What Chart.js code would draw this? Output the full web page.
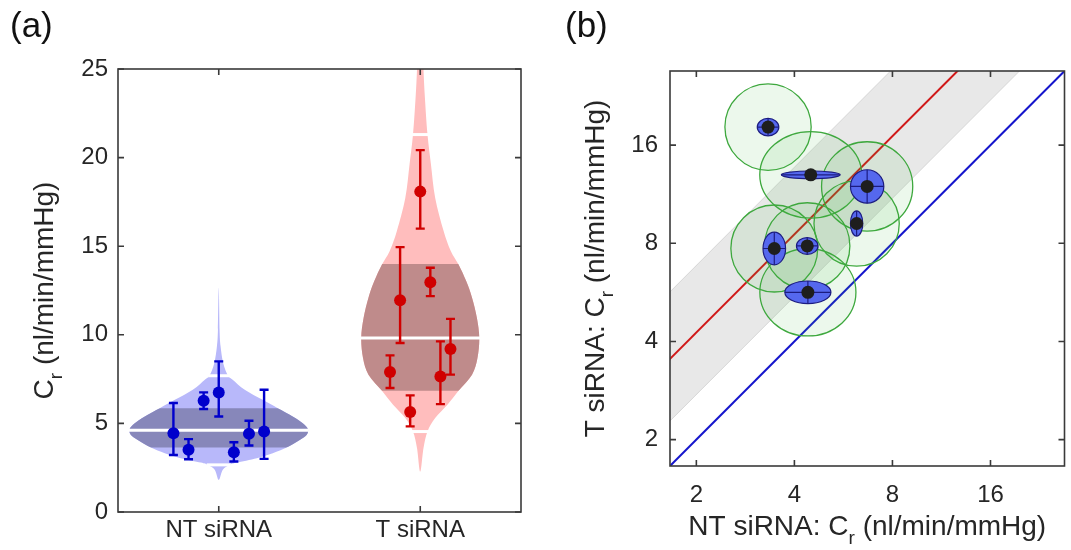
<!DOCTYPE html>
<html>
<head>
<meta charset="utf-8">
<script src="https://cdn.jsdelivr.net/npm/chart.js@4.4.1/dist/chart.umd.min.js"></script>
<style>
  html, body { margin: 0; padding: 0; background: #fff; }
  #wrap { position: relative; width: 1071px; height: 550px; }
  #boxA { position: absolute; left: 0; top: 0; width: 545px; height: 550px; }
  #boxB { position: absolute; left: 545px; top: 0; width: 526px; height: 550px; }
</style>
</head>
<body>
<div id="wrap">
  <div id="boxA"><canvas id="violinChart" width="545" height="550"></canvas></div>
  <div id="boxB"><canvas id="ratioChart" width="526" height="550"></canvas></div>
</div>
<script>
// ---- panel (a) data ----
const groups = ['NT siRNA', 'T siRNA'];
const yTicksA = [0, 5, 10, 15, 20, 25];

const ntValues = [4.45, 3.51, 6.28, 6.75, 3.37, 4.41, 4.54];
const ntLow = [3.22, 2.98, 5.81, 5.39, 2.85, 3.75, 3.00];
const ntHigh = [6.15, 4.11, 6.75, 8.50, 3.94, 5.15, 6.90];

const tValues = [7.90, 11.95, 5.64, 18.08, 12.97, 7.65, 9.20];
const tLow = [7.00, 9.54, 4.83, 15.99, 12.18, 6.09, 7.75];
const tHigh = [8.84, 14.95, 6.58, 20.42, 13.78, 9.63, 10.90];

// violin outlines: level (nl/min/mmHg) and half width (x units)
const ntLevels = [1.81, 2.38, 2.66, 2.79, 3.04, 3.32, 3.64, 4.07, 4.36, 4.69, 5.01, 5.39, 5.86, 6.33, 6.90, 7.47, 7.69, 8.41, 9.35, 10.29, 12.65];
const ntWidths = [0, 0.020, 0.055, 0.089, 0.189, 0.268, 0.337, 0.402, 0.437, 0.442, 0.417, 0.367, 0.293, 0.218, 0.129, 0.069, 0.046, 0.022, 0.009, 0.004, 0];
const ntStats = { low: 2.66, q1: 3.64, median: 4.62, q3: 5.86, high: 7.69 };

const tLevels = [2.28, 3.60, 4.54, 5.30, 6.05, 6.84, 7.75, 8.69, 9.82, 10.96, 12.09, 13.03, 13.97, 14.72, 15.86, 17.74, 19.63, 21.30, 23.40, 25.00, 26.50];
const tWidths = [0, 0.016, 0.036, 0.074, 0.135, 0.190, 0.257, 0.284, 0.293, 0.281, 0.257, 0.228, 0.190, 0.152, 0.116, 0.074, 0.053, 0.036, 0.023, 0.016, 0.012];
const tStats = { low: 4.54, q1: 6.84, median: 9.82, q3: 14.0, high: 21.30 };

// ---- panel (b) data ----
const logTicks = [2, 4, 8, 16];
const axisMin = 1.66;
const axisMax = 27.0;
const ntPaired = [3.32, 4.49, 6.69, 6.21, 3.47, 4.38, 4.40];
const tPaired = [18.17, 12.97, 11.95, 9.20, 7.71, 7.85, 5.66];
// blue ellipses, half axes in log2 units
const ellX = [0.110, 0.300, 0.170, 0.063, 0.115, 0.110, 0.235];
const ellY = [0.089, 0.039, 0.170, 0.128, 0.166, 0.085, 0.115];
// green rings, half axes in log2 units
const ringX = [0.440, 0.520, 0.465, 0.435, 0.443, 0.435, 0.490];
const ringY = [0.440, 0.440, 0.455, 0.435, 0.443, 0.440, 0.445];
const fitRatio = 2.13;
const bandLow = 1.375;
const bandHigh = 3.42;

const fontFamily = "'Liberation Sans', Arial, sans-serif";
const tickFont = { family: fontFamily, size: 24 };
const textColor = '#262626';
const frameColor = '#3a3a3a';
const ntColor = '#0000cc';
const tColor = '#d00000';

function widthAt(levels, widths, v) {
    for (let i = 1; i < levels.length; i++) {
        if (v <= levels[i]) {
            const f = (v - levels[i - 1]) / (levels[i] - levels[i - 1]);
            return widths[i - 1] + f * (widths[i] - widths[i - 1]);
        }
    }
    return widths[widths.length - 1];
}

function smoothLoop(ctx, p) {
    const n = p.length;
    ctx.beginPath();
    ctx.moveTo(p[0][0], p[0][1]);
    for (let i = 0; i < n; i++) {
        const p0 = p[(i - 1 + n) % n], p1 = p[i], p2 = p[(i + 1) % n], p3 = p[(i + 2) % n];
        ctx.bezierCurveTo(
            p1[0] + (p2[0] - p0[0]) / 6, p1[1] + (p2[1] - p0[1]) / 6,
            p2[0] - (p3[0] - p1[0]) / 6, p2[1] - (p3[1] - p1[1]) / 6,
            p2[0], p2[1]);
    }
    ctx.closePath();
}

function subTitle(ctx, x, y, rotate, main, sub, rest) {
    const big = '28px ' + fontFamily;
    const small = '19px ' + fontFamily;
    ctx.save();
    ctx.translate(x, y);
    if (rotate) ctx.rotate(-Math.PI / 2);
    ctx.font = big;
    const w1 = ctx.measureText(main).width;
    const w3 = ctx.measureText(rest).width;
    ctx.font = small;
    const w2 = ctx.measureText(sub).width;
    let cx = -(w1 + w2 + w3) / 2;
    ctx.fillStyle = textColor;
    ctx.textBaseline = 'middle';
    ctx.textAlign = 'left';
    ctx.font = big;
    ctx.fillText(main, cx, 0);
    cx += w1;
    ctx.font = small;
    ctx.fillText(sub, cx, 12);
    cx += w2;
    ctx.font = big;
    ctx.fillText(rest, cx, 0);
    ctx.restore();
}

function panelLabel(ctx, text, x) {
    ctx.save();
    ctx.font = '35px ' + fontFamily;
    ctx.fillStyle = '#111';
    ctx.textBaseline = 'alphabetic';
    ctx.fillText(text, x, 37);
    ctx.restore();
}

function drawFrame(ctx, area, xTicksPx, yTicksPx) {
    ctx.save();
    ctx.strokeStyle = frameColor;
    ctx.lineWidth = 1.6;
    ctx.strokeRect(area.left, area.top, area.right - area.left, area.bottom - area.top);
    ctx.beginPath();
    xTicksPx.forEach(px => {
        ctx.moveTo(px, area.bottom); ctx.lineTo(px, area.bottom - 6);
        ctx.moveTo(px, area.top); ctx.lineTo(px, area.top + 6);
    });
    yTicksPx.forEach(py => {
        ctx.moveTo(area.left, py); ctx.lineTo(area.left + 6, py);
        ctx.moveTo(area.right, py); ctx.lineTo(area.right - 6, py);
    });
    ctx.stroke();
    ctx.restore();
}

const violins = [
    { center: 1, levels: ntLevels, widths: ntWidths, stats: ntStats, light: '#b8b8fa', dark: '#8787ba' },
    { center: 2, levels: tLevels, widths: tWidths, stats: tStats, light: '#ffbdbd', dark: '#bf8b8b' },
];
const errorSets = [
    { center: 1, step: 0.075, low: ntLow, high: ntHigh, color: ntColor },
    { center: 2, step: 0.05, low: tLow, high: tHigh, color: tColor },
];

const violinPlugin = {
    id: 'violins',
    beforeDatasetsDraw(chart) {
        const { ctx, chartArea: a, scales: { x, y } } = chart;
        ctx.save();
        ctx.beginPath();
        ctx.rect(a.left, a.top, a.right - a.left, a.bottom - a.top);
        ctx.clip();
        violins.forEach(v => {
            const pts = [];
            v.levels.forEach((lv, i) => pts.push([x.getPixelForValue(v.center + v.widths[i]), y.getPixelForValue(lv)]));
            for (let i = v.levels.length - 1; i >= 0; i--) {
                if (v.widths[i] > 0) pts.push([x.getPixelForValue(v.center - v.widths[i]), y.getPixelForValue(v.levels[i])]);
            }
            smoothLoop(ctx, pts);
            ctx.fillStyle = v.light;
            ctx.fill();
            // interquartile band
            ctx.save();
            const top = y.getPixelForValue(v.stats.q3);
            const bot = y.getPixelForValue(v.stats.q1);
            ctx.beginPath();
            ctx.rect(a.left, top, a.right - a.left, bot - top);
            ctx.clip();
            smoothLoop(ctx, pts);
            ctx.fillStyle = v.dark;
            ctx.fill();
            ctx.restore();
            // white separators at median and whisker ends
            ctx.strokeStyle = '#ffffff';
            ctx.lineWidth = 3;
            [v.stats.low, v.stats.median, v.stats.high].forEach(lv => {
                const w = widthAt(v.levels, v.widths, lv);
                const py = y.getPixelForValue(lv);
                ctx.beginPath();
                ctx.moveTo(x.getPixelForValue(v.center - w) - 1, py);
                ctx.lineTo(x.getPixelForValue(v.center + w) + 1, py);
                ctx.stroke();
            });
        });
        ctx.restore();
    },
    afterDatasetsDraw(chart) {
        const { ctx, scales: { x, y } } = chart;
        ctx.save();
        ctx.lineWidth = 2.4;
        errorSets.forEach(s => {
            ctx.strokeStyle = s.color;
            s.low.forEach((lo, i) => {
                const px = x.getPixelForValue(s.center + (i - 3) * s.step);
                const p1 = y.getPixelForValue(lo);
                const p2 = y.getPixelForValue(s.high[i]);
                ctx.beginPath();
                ctx.moveTo(px, p1); ctx.lineTo(px, p2);
                ctx.moveTo(px - 4.5, p1); ctx.lineTo(px + 4.5, p1);
                ctx.moveTo(px - 4.5, p2); ctx.lineTo(px + 4.5, p2);
                ctx.stroke();
            });
        });
        ctx.restore();
    },
    afterDraw(chart) {
        const { ctx, chartArea: a, scales: { x, y } } = chart;
        drawFrame(ctx, a, groups.map((g, i) => x.getPixelForValue(i + 1)), yTicksA.map(v => y.getPixelForValue(v)));
        subTitle(ctx, 45, (a.top + a.bottom) / 2, true, 'C', 'r', ' (nl/min/mmHg)');
        panelLabel(ctx, '(a)', 10);
    },
};

const pointSet = (values, center, step, color) => ({
    data: values.map((v, i) => ({ x: center + (i - 3) * step, y: v })),
    backgroundColor: color,
    borderColor: color,
    borderWidth: 0,
    pointRadius: 6,
});

new Chart(document.getElementById('violinChart'), {
    type: 'scatter',
    data: {
        datasets: [
            pointSet(ntValues, 1, 0.075, ntColor),
            pointSet(tValues, 2, 0.05, tColor),
        ],
    },
    options: {
        responsive: false,
        animation: false,
        layout: { padding: { top: 69, right: 24, left: 0, bottom: 0 } },
        plugins: { legend: { display: false }, tooltip: { enabled: false } },
        scales: {
            x: {
                type: 'linear',
                min: 0.5,
                max: 2.5,
                afterBuildTicks: (s) => { s.ticks = groups.map((g, i) => ({ value: i + 1 })); },
                afterFit: (s) => { s.height = 38; },
                ticks: { callback: (v) => groups[Math.round(v) - 1] || '', font: tickFont, color: textColor, padding: 4, maxRotation: 0, autoSkip: false },
                grid: { display: false, drawTicks: false },
                border: { display: false },
            },
            y: {
                min: 0,
                max: 25,
                afterBuildTicks: (s) => { s.ticks = yTicksA.map(v => ({ value: v })); },
                afterFit: (s) => { s.width = 118; },
                ticks: { font: tickFont, color: textColor, padding: 10 },
                grid: { display: false, drawTicks: false },
                border: { display: false },
            },
        },
    },
    plugins: [violinPlugin],
});

// ---- panel (b) ----
const ratioPlugin = {
    id: 'ratio',
    beforeDatasetsDraw(chart) {
        const { ctx, chartArea: a, scales: { x, y } } = chart;
        ctx.save();
        ctx.beginPath();
        ctx.rect(a.left, a.top, a.right - a.left, a.bottom - a.top);
        ctx.clip();
        const lo = [[axisMin / 2, axisMin / 2 * bandLow], [axisMax * 2, axisMax * 2 * bandLow]];
        const hi = [[axisMax * 2, axisMax * 2 * bandHigh], [axisMin / 2, axisMin / 2 * bandHigh]];
        ctx.beginPath();
        lo.concat(hi).forEach(([vx, vy], i) => {
            const px = x.getPixelForValue(vx), py = y.getPixelForValue(vy);
            if (i === 0) ctx.moveTo(px, py); else ctx.lineTo(px, py);
        });
        ctx.closePath();
        ctx.fillStyle = '#e8e8e8';
        ctx.fill();
        ctx.strokeStyle = '#d6d6d6';
        ctx.lineWidth = 1;
        [lo, hi].forEach(edge => {
            ctx.beginPath();
            ctx.moveTo(x.getPixelForValue(edge[0][0]), y.getPixelForValue(edge[0][1]));
            ctx.lineTo(x.getPixelForValue(edge[1][0]), y.getPixelForValue(edge[1][1]));
            ctx.stroke();
        });
        ctx.restore();
    },
    beforeDatasetDraw(chart, args) {
        if (args.index !== 0) return;
        const { ctx, chartArea: a, scales: { x, y } } = chart;
        ctx.save();
        ctx.beginPath();
        ctx.rect(a.left, a.top, a.right - a.left, a.bottom - a.top);
        ctx.clip();
        ntPaired.forEach((vx, i) => {
            const vy = tPaired[i];
            const cx = x.getPixelForValue(vx), cy = y.getPixelForValue(vy);
            const rx = x.getPixelForValue(vx * Math.pow(2, ringX[i])) - cx;
            const ry = cy - y.getPixelForValue(vy * Math.pow(2, ringY[i]));
            ctx.beginPath();
            ctx.ellipse(cx, cy, rx, ry, 0, 0, Math.PI * 2);
            ctx.fillStyle = 'rgba(70, 190, 70, 0.1)';
            ctx.fill();
            ctx.strokeStyle = '#3ea83e';
            ctx.lineWidth = 1.3;
            ctx.stroke();
        });
        ntPaired.forEach((vx, i) => {
            const vy = tPaired[i];
            const cx = x.getPixelForValue(vx), cy = y.getPixelForValue(vy);
            const rx = x.getPixelForValue(vx * Math.pow(2, ellX[i])) - cx;
            const ry = cy - y.getPixelForValue(vy * Math.pow(2, ellY[i]));
            ctx.beginPath();
            ctx.ellipse(cx, cy, rx, ry, 0, 0, Math.PI * 2);
            ctx.fillStyle = '#5568ee';
            ctx.fill();
            ctx.strokeStyle = '#1c1c80';
            ctx.lineWidth = 1.2;
            ctx.stroke();
            ctx.beginPath();
            ctx.moveTo(cx - rx, cy); ctx.lineTo(cx + rx, cy);
            ctx.moveTo(cx, cy - ry); ctx.lineTo(cx, cy + ry);
            ctx.stroke();
        });
        ctx.restore();
    },
    afterDraw(chart) {
        const { ctx, chartArea: a, scales: { x, y } } = chart;
        drawFrame(ctx, a, logTicks.map(v => x.getPixelForValue(v)), logTicks.map(v => y.getPixelForValue(v)));
        subTitle(ctx, (a.left + a.right) / 2, 527, false, 'NT siRNA: C', 'r', ' (nl/min/mmHg)');
        subTitle(ctx, 51, (a.top + a.bottom) / 2, true, 'T siRNA: C', 'r', ' (nl/min/mmHg)');
        panelLabel(ctx, '(b)', 20);
    },
};

const logAxis = (extra) => Object.assign({
    type: 'logarithmic',
    min: axisMin,
    max: axisMax,
    afterBuildTicks: (s) => { s.ticks = logTicks.map(v => ({ value: v })); },
    ticks: { callback: (v) => String(v), font: tickFont, color: textColor, maxRotation: 0, autoSkip: false },
    grid: { display: false, drawTicks: false },
    border: { display: false },
}, extra);

new Chart(document.getElementById('ratioChart'), {
    type: 'scatter',
    data: {
        datasets: [
            {
                label: 'pairs',
                data: ntPaired.map((v, i) => ({ x: v, y: tPaired[i] })),
                backgroundColor: '#1e1e1e',
                borderWidth: 0,
                pointRadius: 6.5,
            },
            {
                label: 'fit',
                data: [{ x: axisMin / 2, y: axisMin / 2 * fitRatio }, { x: axisMax * 2, y: axisMax * 2 * fitRatio }],
                showLine: true,
                pointRadius: 0,
                borderColor: '#d01818',
                borderWidth: 2,
                clip: 0,
            },
            {
                label: 'identity',
                data: [{ x: axisMin / 2, y: axisMin / 2 }, { x: axisMax * 2, y: axisMax * 2 }],
                showLine: true,
                pointRadius: 0,
                borderColor: '#1515cc',
                borderWidth: 2,
                clip: 0,
            },
        ],
    },
    options: {
        responsive: false,
        animation: false,
        layout: { padding: { top: 71, right: 6, left: 0, bottom: 0 } },
        plugins: { legend: { display: false }, tooltip: { enabled: false } },
        scales: {
            x: logAxis({ afterFit: (s) => { s.height = 84; }, ticks: { callback: (v) => String(v), font: tickFont, color: textColor, padding: 15, maxRotation: 0, autoSkip: false } }),
            y: logAxis({ afterFit: (s) => { s.width = 125; }, ticks: { callback: (v) => String(v), font: tickFont, color: textColor, padding: 12, autoSkip: false } }),
        },
    },
    plugins: [ratioPlugin],
});
</script>
</body>
</html>
